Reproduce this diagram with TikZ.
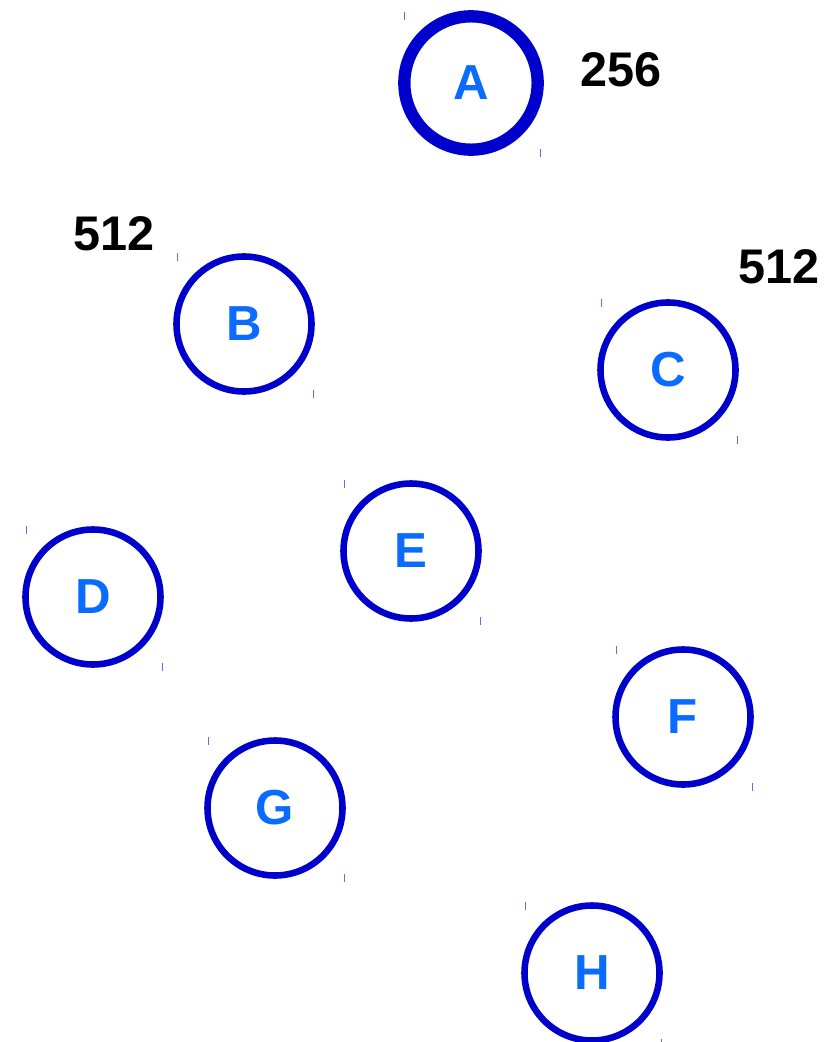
\documentclass[tikz,border=0pt]{standalone}
\usepackage{fontspec}
\setmainfont{Liberation Sans}
\usepackage{tikz}
\usetikzlibrary{positioning}
\definecolor{Ring}{HTML}{0000CC}
\definecolor{Letter}{HTML}{0A6CFF}
\definecolor{Tick}{HTML}{6A6AE0}
\tikzset{
  vertex/.style={circle, draw=Ring, line width=5.6pt, fill=white,
                 minimum size=4.05cm, inner sep=0pt, text=Letter,
                 font=\fontsize{42}{50}\selectfont\bfseries},
  root/.style={vertex, line width=10.5pt, minimum size=4.0cm},
  weight/.style={font=\fontsize{41.5}{50}\selectfont\bfseries, text=black, inner sep=0pt},
  tickmark/.style={draw=Tick, line width=0.6pt},
}
\begin{document}
\begin{tikzpicture}[x=0.03cm, y=-0.03cm]
  \useasboundingbox (0,0) rectangle (835,1042);
  \node[root] (A) at (471,83) {A};
  \node[vertex] (B) at (244,324) {B};
  \node[vertex] (C) at (668,370) {C};
  \node[vertex] (D) at (93,597) {D};
  \node[vertex] (E) at (411,551) {E};
  \node[vertex] (F) at (683,717) {F};
  \node[vertex] (G) at (275,808) {G};
  \node[vertex] (H) at (592,973) {H};
  % weights
  \node[weight] (wA) at (621,70) {256};
  \node[weight] (wB) at (114,234) {512};
  \node[weight] (wC) at (779,267) {512};
  % corner marks
  \foreach \n in {A,B,C,D,E,F,G,H} {
    \draw[tickmark] ([shift={(-67,-71)}]\n.center) -- ++(0,8);
    \draw[tickmark] ([shift={(69,66)}]\n.center) -- ++(0,8);
  }
\end{tikzpicture}
\end{document}
